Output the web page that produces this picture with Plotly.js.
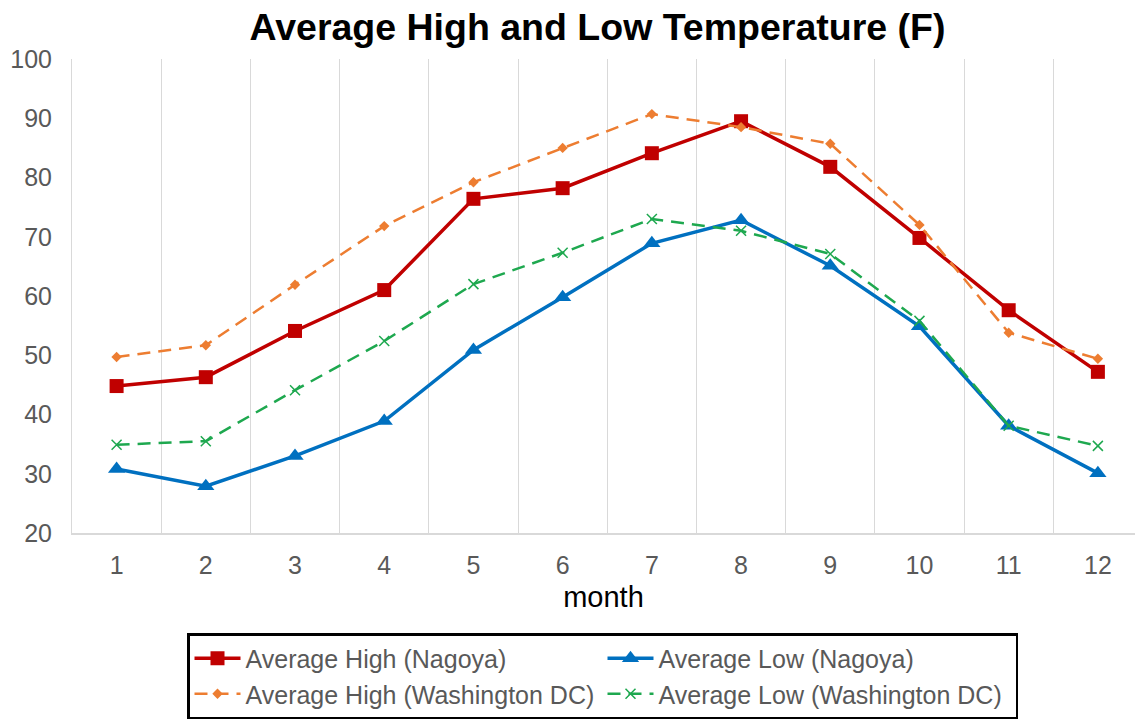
<!DOCTYPE html>
<html>
<head>
<meta charset="utf-8">
<script src="https://cdn.plot.ly/plotly-3.0.1.min.js"></script>
<style>
  html, body { margin: 0; padding: 0; background: #ffffff; }
  #chart { width: 1135px; height: 719px; }
</style>
</head>
<body>
<div id="chart"></div>
<script>
// Months on the category axis
const months = [1, 2, 3, 4, 5, 6, 7, 8, 9, 10, 11, 12];

// Monthly temperatures in degrees Fahrenheit
const highNagoya = [44.8, 46.3, 54.1, 61.0, 76.4, 78.2, 84.1, 89.5, 81.8, 69.8, 57.6, 47.2];
const lowNagoya  = [30.8, 27.9, 33.0, 38.9, 50.9, 59.8, 68.9, 72.8, 65.1, 54.9, 38.1, 30.1];
const highDC     = [49.7, 51.7, 61.9, 71.8, 79.2, 85.0, 90.7, 88.5, 85.7, 72.0, 53.8, 49.4];
const lowDC      = [34.9, 35.5, 44.1, 52.4, 62.0, 67.3, 73.0, 71.0, 67.1, 55.8, 38.1, 34.7];

// Vertical separators sit between months
const gridPositions = [0.5, 1.5, 2.5, 3.5, 4.5, 5.5, 6.5, 7.5, 8.5, 9.5, 10.5, 11.5, 12.5];

const FONT = 'Liberation Sans, Arial, sans-serif';

const traces = [
  {
    x: months, y: highNagoya, name: 'Average High (Nagoya)',
    type: 'scatter', mode: 'lines+markers',
    line: { color: '#C00000', width: 3.5 },
    marker: { symbol: 'square', size: 14, color: '#C00000' }
  },
  {
    x: months, y: lowNagoya, name: 'Average Low (Nagoya)',
    type: 'scatter', mode: 'lines+markers',
    line: { color: '#0070C0', width: 3.5 },
    marker: { symbol: 'triangle-up', size: 15, color: '#0070C0' }
  },
  {
    x: months, y: highDC, name: 'Average High (Washington DC)',
    type: 'scatter', mode: 'lines+markers',
    line: { color: '#ED7D31', width: 2.5, dash: '13px,8px' },
    marker: { symbol: 'diamond', size: 8, color: '#ED7D31' }
  },
  {
    x: months, y: lowDC, name: 'Average Low (Washington DC)',
    type: 'scatter', mode: 'lines+markers',
    line: { color: '#1EA84F', width: 2.5, dash: '13px,8px' },
    marker: { symbol: 'x-thin-open', size: 10, color: '#1EA84F', line: { width: 1.5, color: '#1EA84F' } }
  }
];

const layout = {
  width: 1135,
  height: 719,
  paper_bgcolor: '#ffffff',
  plot_bgcolor: '#ffffff',
  margin: { l: 72, r: 0, t: 59, b: 186 },
  showlegend: true,
  font: { family: FONT, color: '#595959' },
  title: {
    text: '<b>Average High and Low Temperature (F)</b>',
    font: { family: FONT, size: 37.5, color: '#000000' },
    xref: 'container', yref: 'container',
    x: 0.5264, xanchor: 'center',
    y: 1 - 27 / 719, yanchor: 'middle'
  },
  xaxis: {
    range: [0.5, 12.416],
    tickmode: 'array',
    tickvals: months,
    ticktext: months.map(String),
    ticks: '',
    showgrid: false,
    zeroline: false,
    showline: true,
    linecolor: '#d9d9d9',
    linewidth: 1.5,
    tickfont: { family: FONT, size: 25, color: '#595959' },
    ticklabelstandoff: 9,
    minor: {
      tickmode: 'array',
      tickvals: gridPositions,
      showgrid: true,
      gridcolor: '#d9d9d9',
      gridwidth: 1,
      ticks: ''
    },
    title: {
      text: 'month',
      font: { family: FONT, size: 29, color: '#000000' },
      standoff: 9
    }
  },
  yaxis: {
    range: [20, 100],
    tickmode: 'array',
    tickvals: [20, 30, 40, 50, 60, 70, 80, 90, 100],
    ticks: '',
    showgrid: false,
    zeroline: false,
    showline: true,
    linecolor: '#d9d9d9',
    linewidth: 1,
    tickfont: { family: FONT, size: 25, color: '#595959' },
    ticklabelstandoff: 14
  },
  legend: {
    orientation: 'h',
    xref: 'container', yref: 'container',
    x: 187 / 1135, xanchor: 'left',
    y: 1 - 633 / 719, yanchor: 'top',
    bgcolor: '#ffffff',
    bordercolor: '#000000',
    borderwidth: 2.5,
    entrywidth: 352,
    entrywidthmode: 'pixels',
    itemwidth: 46,
    font: { family: FONT, size: 25, color: '#595959' }
  }
};

Plotly.newPlot('chart', traces, layout, { displayModeBar: false, staticPlot: true });
</script>
</body>
</html>
